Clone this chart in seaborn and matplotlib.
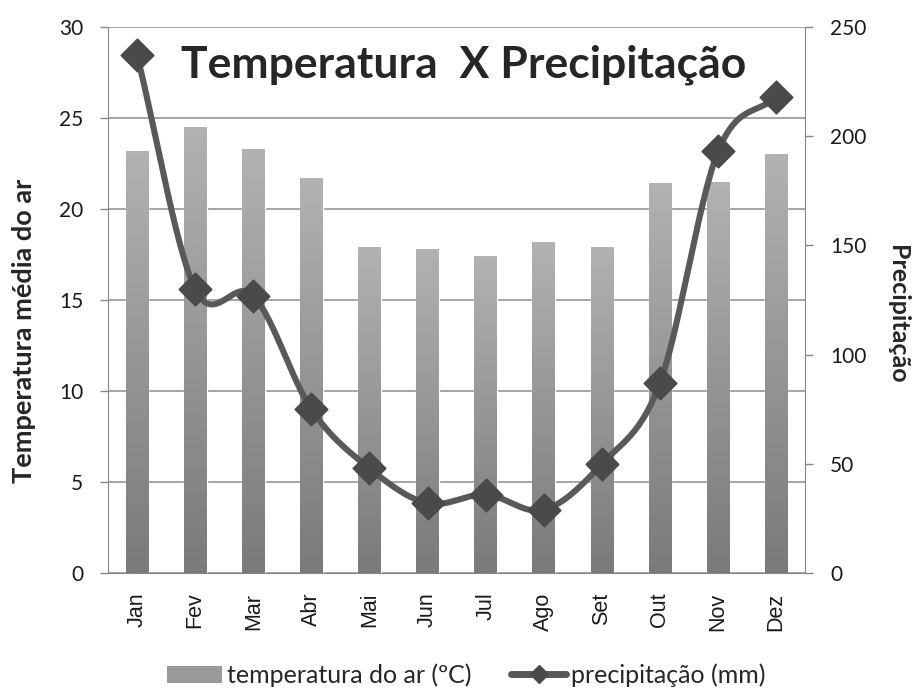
import matplotlib
matplotlib.use("Agg")
import matplotlib.pyplot as plt
import seaborn as sns
import numpy as np
from matplotlib.patches import Patch
from matplotlib.lines import Line2D

months = ['Jan', 'Fev', 'Mar', 'Abr', 'Mai', 'Jun', 'Jul', 'Ago', 'Set', 'Out', 'Nov', 'Dez']
temperatura = [23.2, 24.5, 23.3, 21.7, 17.9, 17.8, 17.4, 18.2, 17.9, 21.4, 21.5, 23.0]
precipitacao = [237, 130, 127, 75, 48, 32, 36, 29, 50, 87, 193, 218]


def smooth_curve(y, n=30):
    # Catmull-Rom spline through the points, like the smoothed line in Excel
    y = np.asarray(y, dtype=float)
    x = np.arange(len(y), dtype=float)
    px = np.concatenate([[2 * x[0] - x[1]], x, [2 * x[-1] - x[-2]]])
    py = np.concatenate([[2 * y[0] - y[1]], y, [2 * y[-1] - y[-2]]])
    xs, ys = [], []
    for i in range(1, len(px) - 2):
        t = np.linspace(0, 1, n, endpoint=False)
        for p, out in ((px, xs), (py, ys)):
            p0, p1, p2, p3 = p[i - 1], p[i], p[i + 1], p[i + 2]
            out.extend(0.5 * (2 * p1 + (-p0 + p2) * t + (2 * p0 - 5 * p1 + 4 * p2 - p3) * t ** 2
                              + (-p0 + 3 * p1 - 3 * p2 + p3) * t ** 3))
    xs.append(x[-1])
    ys.append(y[-1])
    return np.array(xs), np.array(ys)


sns.set_style("white")
plt.rcParams['font.family'] = ['Lato', 'DejaVu Sans']

fig = plt.figure(figsize=(9.16, 6.89), dpi=100)
ax = fig.add_axes([0.118, 0.168, 0.761, 0.793])

sns.barplot(x=months, y=temperatura, ax=ax, color='#9a9a9a', width=0.39,
            saturation=1, zorder=2)

# vertical gradient inside the bars
grad = np.linspace(0, 1, 256).reshape(-1, 1)
gray_cmap = matplotlib.colors.LinearSegmentedColormap.from_list('g', ['#7a7a7a', '#b2b2b2'])
for bar in ax.patches:
    x0, y0 = bar.get_x(), bar.get_y()
    w, h = bar.get_width(), bar.get_height()
    im = ax.imshow(grad, cmap=gray_cmap, origin='lower', aspect='auto',
                   extent=[x0, x0 + w, y0, y0 + h], zorder=2.5)
    im.set_clip_path(bar)

ax.set_xlim(-0.5, 11.5)
ax.set_ylim(0, 30)
ax.set_yticks(range(0, 31, 5))
ax.yaxis.grid(True, color='#8c8c8c', linewidth=1.1)
ax.set_axisbelow(True)
ax.set_xticks(range(12))
ax.set_xticklabels(months, rotation=90, family=['Liberation Sans', 'DejaVu Sans'])
ax.set_xticks(np.arange(-0.5, 12, 1), minor=True)
ax.tick_params(axis='x', which='major', length=0, pad=14, labelsize=15.5, labelcolor='#1a1a1a')
ax.tick_params(axis='x', which='minor', length=8, color='#868686', width=1)
ax.tick_params(axis='y', length=6, color='#868686', width=1, labelsize=15,
               labelcolor='#1a1a1a', left=True, pad=12)
for s in ['top', 'right']:
    ax.spines[s].set_visible(False)
for s in ['left', 'bottom']:
    ax.spines[s].set_color('#868686')
ax.set_ylabel('')

ax2 = ax.twinx()
ax2.set_ylim(0, 250)
ax2.set_yticks(range(0, 251, 50))
xs, ys = smooth_curve(precipitacao)
ax2.plot(xs, ys, color='#595959', linewidth=4.4, zorder=3, solid_capstyle='round')
sns.scatterplot(x=np.arange(12), y=precipitacao, ax=ax2, marker='D', s=270,
                color='#4a4a4a', edgecolor='#4a4a4a', zorder=4, legend=False)
ax2.tick_params(axis='y', length=6, color='#868686', width=1, labelsize=15,
                labelcolor='#1a1a1a', right=True, pad=12)
for s in ['top', 'left', 'bottom']:
    ax2.spines[s].set_visible(False)
ax2.spines['right'].set_color('#868686')

# axis titles placed like in the original chart
fig.text(0.0262, 0.52, 'Temperatura média do ar', rotation=90, fontsize=19.5,
         fontweight='bold', ha='center', va='center')
fig.text(0.9793, 0.5443, 'Precipitação', rotation=-90, fontsize=18,
         fontweight='bold', ha='center', va='center')

ax.text(0.51, 0.93, 'Temperatura  X Precipitação', transform=ax.transAxes,
        fontsize=32, fontweight='bold', ha='center', va='center', zorder=5)

handles = [Patch(facecolor='#9a9a9a', edgecolor='none'),
           Line2D([0], [0], color='#595959', linewidth=5, marker='D',
                  markersize=9, markerfacecolor='#4a4a4a', markeredgecolor='#4a4a4a')]
fig.legend(handles, ['temperatura do ar (ºC)', 'precipitação (mm)'], loc='center',
           bbox_to_anchor=(0.509, 0.02), ncol=2, frameon=False, fontsize=18,
           handlelength=2.2, handleheight=0.7, columnspacing=1.6, handletextpad=0.2)

fig.savefig('out.png', dpi=100)
